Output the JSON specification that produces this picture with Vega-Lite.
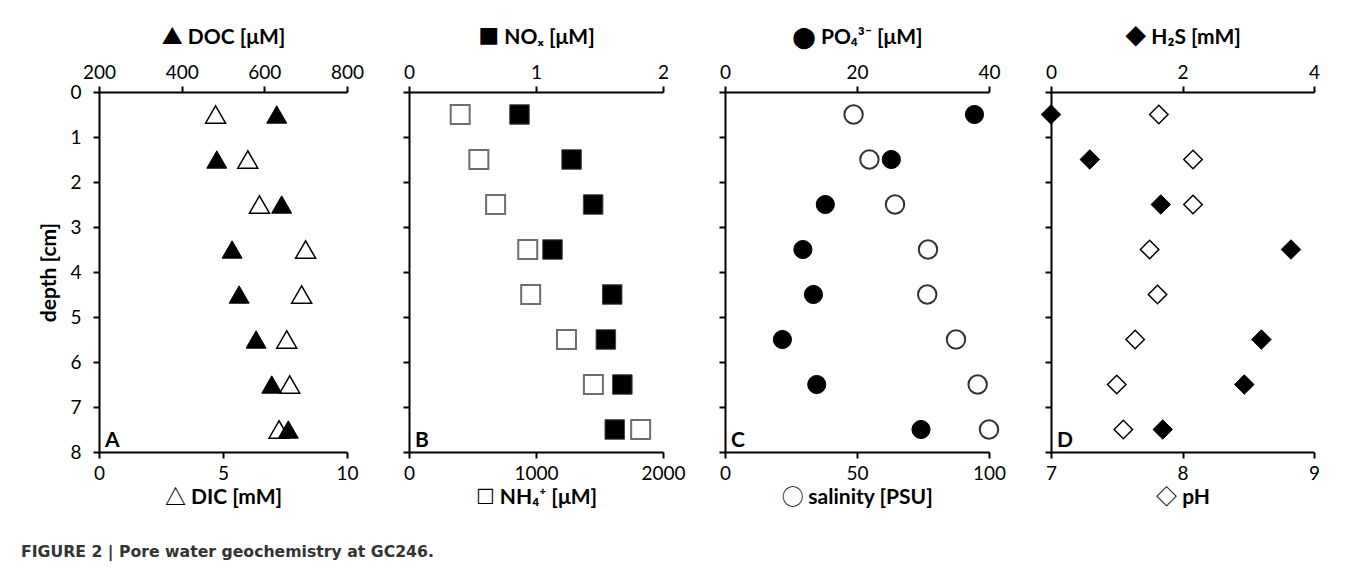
{
  "$schema": "https://vega.github.io/schema/vega-lite/v6.json",
  "padding": {"left": 20, "top": 26, "right": 10, "bottom": 10},
  "background": "white",
  "title": {"text": "FIGURE 2 | Pore water geochemistry at GC246.", "orient": "bottom", "anchor": "start", "frame": "bounds", "font": "DejaVu Sans", "fontSize": 15.7, "fontWeight": "bold", "color": "#333333", "offset": 38, "dx": -18},
  "datasets": {
    "A": [
      {"depth": 0.5, "DIC": 4.7, "DOC": 630},
      {"depth": 1.5, "DIC": 6.0, "DOC": 485},
      {"depth": 2.5, "DIC": 6.47, "DOC": 642},
      {"depth": 3.5, "DIC": 8.33, "DOC": 522},
      {"depth": 4.5, "DIC": 8.17, "DOC": 539},
      {"depth": 5.5, "DIC": 7.57, "DOC": 580},
      {"depth": 6.5, "DIC": 7.69, "DOC": 618},
      {"depth": 7.5, "DIC": 7.26, "DOC": 658}
    ],
    "B": [
      {"depth": 0.5, "NH4": 403, "NOx": 0.87},
      {"depth": 1.5, "NH4": 550, "NOx": 1.28},
      {"depth": 2.5, "NH4": 682, "NOx": 1.45},
      {"depth": 3.5, "NH4": 935, "NOx": 1.13},
      {"depth": 4.5, "NH4": 958, "NOx": 1.6},
      {"depth": 5.5, "NH4": 1240, "NOx": 1.55},
      {"depth": 6.5, "NH4": 1452, "NOx": 1.68},
      {"depth": 7.5, "NH4": 1824, "NOx": 1.62}
    ],
    "C": [
      {"depth": 0.5, "salinity": 48.7, "PO4": 37.8},
      {"depth": 1.5, "salinity": 54.7, "PO4": 25.2},
      {"depth": 2.5, "salinity": 64.4, "PO4": 15.2},
      {"depth": 3.5, "salinity": 76.9, "PO4": 11.8},
      {"depth": 4.5, "salinity": 76.6, "PO4": 13.4},
      {"depth": 5.5, "salinity": 87.5, "PO4": 8.7},
      {"depth": 6.5, "salinity": 95.7, "PO4": 13.9},
      {"depth": 7.5, "salinity": 100, "PO4": 29.7}
    ],
    "D": [
      {"depth": 0.5, "pH": 7.82, "H2S": 0.0},
      {"depth": 1.5, "pH": 8.08, "H2S": 0.59},
      {"depth": 2.5, "pH": 8.08, "H2S": 1.67},
      {"depth": 3.5, "pH": 7.75, "H2S": 3.65},
      {"depth": 4.5, "pH": 7.81, "H2S": null},
      {"depth": 5.5, "pH": 7.64, "H2S": 3.2},
      {"depth": 6.5, "pH": 7.5, "H2S": 2.94},
      {"depth": 7.5, "pH": 7.55, "H2S": 1.7}
    ]
  },
  "hconcat": [
    {
      "width": 248, "height": 360,
      "data": {"name": "A"},
      "resolve": {"scale": {"x": "independent"}, "axis": {"x": "independent"}},
      "layer": [
        {
          "mark": {"type": "point", "shape": "triangle-up", "filled": true, "fill": "white", "stroke": "black", "strokeWidth": 1.5, "size": 400, "opacity": 1},
          "encoding": {
            "x": {"field": "DIC", "type": "quantitative", "scale": {"domain": [0, 10], "nice": false, "zero": false}, "axis": {"orient": "bottom", "values": [0, 5, 10], "tickCount": 3, "labelOverlap": false, "title": "△ DIC [mM]", "labelPadding": 6, "titlePadding": 3}},
            "y": {"field": "depth", "type": "quantitative", "scale": {"domain": [0, 8], "reverse": true, "nice": false}, "axis": {"values": [0, 1, 2, 3, 4, 5, 6, 7, 8], "tickCount": 9, "labelOverlap": false, "title": "depth [cm]", "labelPadding": 12, "titlePadding": 10}}
          }
        },
        {
          "mark": {"type": "point", "shape": "triangle-up", "filled": true, "fill": "black", "stroke": "black", "strokeWidth": 1, "size": 400, "opacity": 1},
          "encoding": {
            "x": {"field": "DOC", "type": "quantitative", "scale": {"domain": [200, 800], "nice": false, "zero": false}, "axis": {"orient": "top", "values": [200, 400, 600, 800], "tickCount": 4, "labelOverlap": false, "title": "▲ DOC [μM]", "titlePadding": 16}},
            "y": {"field": "depth", "type": "quantitative", "scale": {"domain": [0, 8], "reverse": true, "nice": false}, "axis": {"values": [0, 1, 2, 3, 4, 5, 6, 7, 8], "tickCount": 9, "labelOverlap": false, "title": "depth [cm]", "labelPadding": 12, "titlePadding": 10}}
          }
        },
        {
          "data": {"values": [{"panel": "A"}]},
          "mark": {"type": "text", "align": "left", "baseline": "alphabetic", "dx": 6, "dy": -5, "font": "Lato", "fontWeight": "bold", "fontSize": 21, "color": "black"},
          "encoding": {
            "text": {"field": "panel"},
            "x": {"datum": 0, "type": "quantitative", "scale": {"domain": [0, 10]}, "axis": null},
            "y": {"datum": 8, "type": "quantitative", "axis": {"values": [0, 1, 2, 3, 4, 5, 6, 7, 8], "tickCount": 9, "labelOverlap": false, "title": "depth [cm]", "labelPadding": 12, "titlePadding": 10}}
          }
        }
      ]
    },
    {
      "width": 254, "height": 360,
      "data": {"name": "B"},
      "resolve": {"scale": {"x": "independent"}, "axis": {"x": "independent"}},
      "layer": [
        {
          "mark": {"type": "point", "shape": "square", "filled": true, "fill": "white", "stroke": "#6e6e6e", "strokeWidth": 2, "size": 360, "opacity": 1},
          "encoding": {
            "x": {"field": "NH4", "type": "quantitative", "scale": {"domain": [0, 2000], "nice": false}, "axis": {"orient": "bottom", "values": [0, 1000, 2000], "tickCount": 3, "format": "d", "labelOverlap": false, "title": "☐ NH₄⁺ [μM]", "labelPadding": 6, "titlePadding": 3}},
            "y": {"field": "depth", "type": "quantitative", "scale": {"domain": [0, 8], "reverse": true, "nice": false}, "axis": {"values": [0, 1, 2, 3, 4, 5, 6, 7, 8], "tickCount": 9, "labels": false, "title": null}}
          }
        },
        {
          "mark": {"type": "point", "shape": "square", "filled": true, "fill": "black", "stroke": "#444444", "strokeWidth": 1, "size": 380, "opacity": 1},
          "encoding": {
            "x": {"field": "NOx", "type": "quantitative", "scale": {"domain": [0, 2], "nice": false}, "axis": {"orient": "top", "values": [0, 1, 2], "tickCount": 3, "format": ".0f", "labelOverlap": false, "title": "■ NOₓ [μM]", "titlePadding": 16}},
            "y": {"field": "depth", "type": "quantitative", "scale": {"domain": [0, 8], "reverse": true, "nice": false}, "axis": {"values": [0, 1, 2, 3, 4, 5, 6, 7, 8], "tickCount": 9, "labels": false, "title": null}}
          }
        },
        {
          "data": {"values": [{"panel": "B"}]},
          "mark": {"type": "text", "align": "left", "baseline": "alphabetic", "dx": 6, "dy": -5, "font": "Lato", "fontWeight": "bold", "fontSize": 21, "color": "black"},
          "encoding": {
            "text": {"field": "panel"},
            "x": {"datum": 0, "type": "quantitative", "scale": {"domain": [0, 2000]}, "axis": null},
            "y": {"datum": 8, "type": "quantitative", "axis": {"values": [0, 1, 2, 3, 4, 5, 6, 7, 8], "tickCount": 9, "labels": false, "title": null}}
          }
        }
      ]
    },
    {
      "width": 264, "height": 360,
      "data": {"name": "C"},
      "resolve": {"scale": {"x": "independent"}, "axis": {"x": "independent"}},
      "layer": [
        {
          "mark": {"type": "point", "shape": "circle", "filled": true, "fill": "white", "stroke": "#333333", "strokeWidth": 2, "size": 340, "opacity": 1},
          "encoding": {
            "x": {"field": "salinity", "type": "quantitative", "scale": {"domain": [0, 100], "nice": false}, "axis": {"orient": "bottom", "values": [0, 50, 100], "tickCount": 3, "labelOverlap": false, "title": "◯ salinity [PSU]", "labelPadding": 6, "titlePadding": 3}},
            "y": {"field": "depth", "type": "quantitative", "scale": {"domain": [0, 8], "reverse": true, "nice": false}, "axis": {"values": [0, 1, 2, 3, 4, 5, 6, 7, 8], "tickCount": 9, "labels": false, "title": null}}
          }
        },
        {
          "mark": {"type": "point", "shape": "circle", "filled": true, "fill": "black", "stroke": "black", "strokeWidth": 1, "size": 330, "opacity": 1},
          "encoding": {
            "x": {"field": "PO4", "type": "quantitative", "scale": {"domain": [0, 40], "nice": false}, "axis": {"orient": "top", "values": [0, 20, 40], "tickCount": 3, "labelOverlap": false, "title": "⬤ PO₄³⁻ [μM]", "titlePadding": 16}},
            "y": {"field": "depth", "type": "quantitative", "scale": {"domain": [0, 8], "reverse": true, "nice": false}, "axis": {"values": [0, 1, 2, 3, 4, 5, 6, 7, 8], "tickCount": 9, "labels": false, "title": null}}
          }
        },
        {
          "data": {"values": [{"panel": "C"}]},
          "mark": {"type": "text", "align": "left", "baseline": "alphabetic", "dx": 6, "dy": -5, "font": "Lato", "fontWeight": "bold", "fontSize": 21, "color": "black"},
          "encoding": {
            "text": {"field": "panel"},
            "x": {"datum": 0, "type": "quantitative", "scale": {"domain": [0, 100]}, "axis": null},
            "y": {"datum": 8, "type": "quantitative", "axis": {"values": [0, 1, 2, 3, 4, 5, 6, 7, 8], "tickCount": 9, "labels": false, "title": null}}
          }
        }
      ]
    },
    {
      "width": 263, "height": 360,
      "data": {"name": "D"},
      "resolve": {"scale": {"x": "independent"}, "axis": {"x": "independent"}},
      "layer": [
        {
          "mark": {"type": "point", "shape": "diamond", "filled": true, "fill": "white", "stroke": "black", "strokeWidth": 1.5, "size": 340, "opacity": 1},
          "encoding": {
            "x": {"field": "pH", "type": "quantitative", "scale": {"domain": [7, 9], "nice": false, "zero": false}, "axis": {"orient": "bottom", "values": [7, 8, 9], "tickCount": 3, "format": ".0f", "labelOverlap": false, "title": "◇ pH", "labelPadding": 6, "titlePadding": 3}},
            "y": {"field": "depth", "type": "quantitative", "scale": {"domain": [0, 8], "reverse": true, "nice": false}, "axis": {"values": [0, 1, 2, 3, 4, 5, 6, 7, 8], "tickCount": 9, "labels": false, "title": null}}
          }
        },
        {
          "mark": {"type": "point", "shape": "diamond", "filled": true, "fill": "black", "stroke": "black", "strokeWidth": 1, "size": 380, "opacity": 1},
          "encoding": {
            "x": {"field": "H2S", "type": "quantitative", "scale": {"domain": [0, 4], "nice": false}, "axis": {"orient": "top", "values": [0, 2, 4], "tickCount": 3, "labelOverlap": false, "title": "◆ H₂S [mM]", "titlePadding": 16}},
            "y": {"field": "depth", "type": "quantitative", "scale": {"domain": [0, 8], "reverse": true, "nice": false}, "axis": {"values": [0, 1, 2, 3, 4, 5, 6, 7, 8], "tickCount": 9, "labels": false, "title": null}}
          }
        },
        {
          "data": {"values": [{"panel": "D"}]},
          "mark": {"type": "text", "align": "left", "baseline": "alphabetic", "dx": 6, "dy": -5, "font": "Lato", "fontWeight": "bold", "fontSize": 21, "color": "black"},
          "encoding": {
            "text": {"field": "panel"},
            "x": {"datum": 7, "type": "quantitative", "scale": {"domain": [7, 9]}, "axis": null},
            "y": {"datum": 8, "type": "quantitative", "axis": {"values": [0, 1, 2, 3, 4, 5, 6, 7, 8], "tickCount": 9, "labels": false, "title": null}}
          }
        }
      ]
    }
  ],
  "spacing": 62,
  "bounds": "flush",
  "config": {
    "view": {"stroke": null},
    "font": "Lato",
    "axis": {
      "grid": false,
      "labelOverlap": false,
      "labelFlush": false,
      "domainColor": "black", "domainWidth": 2,
      "tickColor": "black", "tickWidth": 2, "tickSize": 6,
      "labelFont": "Lato", "labelFontSize": 19, "labelColor": "black", "labelPadding": 4,
      "titleFont": "Lato, 'Noto Sans CJK JP', 'DejaVu Sans', sans-serif", "titleFontSize": 21, "titleFontWeight": "bold", "titleColor": "black"
    }
  }
}
